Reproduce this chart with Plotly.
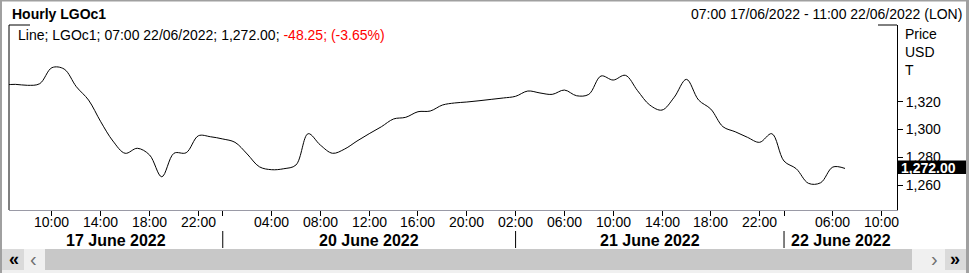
import plotly.graph_objects as go

# ---- data ----
day_names = ["17 June 2022", "20 June 2022", "21 June 2022", "22 June 2022"]
day_hours = [
    list(range(6, 24)),   # 17 June (Fri)
    list(range(0, 24)),   # 20 June (Mon)
    list(range(2, 24)),   # 21 June
    list(range(2, 12)),   # 22 June (axis slots, data ends 07:00)
]
labelled_hours = [
    [10, 14, 18, 22],
    [4, 8, 12, 16, 20],
    [2, 6, 10, 14, 18, 22],
    [6, 10],
]
prices = [
    # 17 June 06:00 - 23:00
    1332.0, 1332.5, 1331.8, 1333.0, 1344.5, 1343.5, 1330.8, 1321.2, 1305.6,
    1291.7, 1282.9, 1286.5, 1281.7, 1266.0, 1282.9, 1283.3, 1295.5, 1294.8,
    # 20 June 00:00 - 23:00
    1293.2, 1290.8, 1282.4, 1273.2, 1271.1, 1271.8, 1274.5, 1297.0, 1288.8,
    1282.9, 1286.0, 1291.7, 1297.0, 1302.0, 1307.6, 1308.8, 1312.8, 1313.3,
    1317.6, 1319.1, 1319.8, 1320.7, 1321.7, 1322.7,
    # 21 June 02:00 - 23:00
    1323.9, 1327.7, 1326.3, 1325.3, 1328.4, 1324.3, 1325.3, 1338.5, 1335.6,
    1339.0, 1327.9, 1317.6, 1314.0, 1323.2, 1336.1, 1321.2, 1314.7, 1302.0,
    1298.4, 1294.4, 1290.8, 1297.0,
    # 22 June 02:00 - 07:00
    1277.3, 1271.8, 1261.3, 1261.7, 1273.0, 1272.0,
]
y_ticks = [1260, 1280, 1300, 1320]
last_price = 1272.00

# ---- slots ----
slots = []
for d, hrs in zip(day_names, day_hours):
    for h in hrs:
        slots.append((d, h))
idx = {s: i for i, s in enumerate(slots)}
xs = list(range(len(prices)))

W, H = 969, 273
L, R, T, B = 9, 897, 25, 210
X_RANGE = [0.48, 73.26]
Y_RANGE = [1242.1, 1375.2]


def px(x):
    return (x - L) / (R - L)


def py(y):
    return (B - y) / (B - T)


FONT = "Arial, Liberation Sans, sans-serif"

fig = go.Figure()
fig.add_trace(go.Scatter(
    x=xs, y=prices, mode="lines",
    line=dict(color="black", width=1, shape="spline", smoothing=1.0),
    hoverinfo="skip",
))

# x ticks (marks from axis, labels as annotations)
tickvals, ticklabels = [], []
for d, hrs in zip(day_names, labelled_hours):
    for h in hrs:
        tickvals.append(idx[(d, h)])
        ticklabels.append(f"{h:02d}:00")
day_starts = [idx[(d, hrs[0])] for d, hrs in zip(day_names, day_hours)]
all_ticks = sorted(set(tickvals + day_starts[1:]))

fig.update_xaxes(
    range=X_RANGE, tickvals=all_ticks, showticklabels=False,
    ticks="outside", ticklen=5, tickcolor="black", tickwidth=1,
    showgrid=False, zeroline=False, showline=True, linecolor="#9a9aa6",
    linewidth=1, fixedrange=True,
)
fig.update_yaxes(
    range=Y_RANGE, side="right", tickvals=y_ticks,
    ticktext=[f"{v:,}" for v in y_ticks],
    ticks="outside", ticklen=5, tickcolor="black", tickwidth=1,
    showgrid=False, zeroline=False, showline=True, linecolor="black",
    linewidth=1, tickfont=dict(family=FONT, size=14, color="black"),
    fixedrange=True,
)

shapes = []
# left border and partial top border
shapes.append(dict(type="line", xref="paper", yref="paper", x0=0, x1=0,
                   y0=0, y1=1, line=dict(color="black", width=1)))
shapes.append(dict(type="line", xref="paper", yref="paper", x0=0, x1=px(30),
                   y0=1, y1=1, line=dict(color="black", width=1)))
shapes.append(dict(type="line", xref="paper", yref="paper", x0=px(878), x1=1,
                   y0=1, y1=1, line=dict(color="black", width=1)))
# day separators
bounds = [X_RANGE[0]] + day_starts[1:] + [X_RANGE[1]]
for ds in day_starts[1:]:
    shapes.append(dict(type="line", xref="x", yref="paper", x0=ds, x1=ds,
                       y0=py(231), y1=py(248), line=dict(color="black", width=1)))


def rect(x0, x1, y0, y1, color):
    return dict(type="rect", xref="paper", yref="paper", x0=px(x0), x1=px(x1),
                y0=py(y1), y1=py(y0), fillcolor=color, line=dict(width=0),
                layer="above")


# scrollbar
shapes.append(rect(0, 969, 249, 273, "#f0f0f0"))
shapes.append(rect(2, 24, 249, 270, "#dadada"))
shapes.append(rect(24, 45, 249, 270, "#f0f0f0"))
shapes.append(rect(45, 912, 249, 270, "#c8c8c8"))
shapes.append(rect(912, 945, 249, 270, "#f0f0f0"))
shapes.append(rect(945, 966, 249, 270, "#dadada"))
# outer frame
shapes.append(rect(0, 2, 0, 273, "#a0a0a0"))
shapes.append(rect(0, 969, 0, 1.5, "#a0a0a0"))
shapes.append(rect(966, 969, 0, 273, "#a0a0a0"))
# current value box
shapes.append(rect(898, 966, 160.5, 174, "black"))

annotations = []


def ann(text, x, y, size=14, color="black", xanchor="left", bold=False,
        xref="paper"):
    if bold:
        text = f"<b>{text}</b>"
    annotations.append(dict(
        text=text, x=x if xref != "paper" else px(x), y=py(y),
        xref=xref, yref="paper", showarrow=False, xanchor=xanchor,
        yanchor="middle", font=dict(family=FONT, size=size, color=color),
    ))


ann("Hourly LGOc1", 10, 14, bold=True)
ann("07:00 17/06/2022 - 11:00 22/06/2022 (LON)", 964, 14, xanchor="right")
ann("Line; LGOc1; 07:00 22/06/2022; 1,272.00; "
    "<span style='color:#ff0000'>-48.25; (-3.65%)</span>", 16, 35)
ann("Price", 903, 34)
ann("USD", 903, 52)
ann("T", 903, 70)
ann(f"{last_price:,.2f}", 899, 167.5, color="white", bold=True)

for tv, tl in zip(tickvals, ticklabels):
    ann(tl, tv, 222, size=14, xanchor="center", xref="x")

for i, d in enumerate(day_names):
    c = (bounds[i] + bounds[i + 1]) / 2
    ann(d, c, 240, size=16, bold=True, xanchor="center", xref="x")

ann("«", 13.5, 259, size=18, bold=True, xanchor="center")
ann("‹", 33.5, 259, size=20, color="#707070", xanchor="center")
ann("›", 934.5, 259, size=20, color="#707070", xanchor="center")
ann("»", 955, 259, size=18, bold=True, xanchor="center")

fig.update_layout(
    width=W, height=H,
    margin=dict(l=L, r=W - R, t=T, b=H - B, pad=0),
    paper_bgcolor="white", plot_bgcolor="white",
    showlegend=False, shapes=shapes, annotations=annotations,
    font=dict(family=FONT, size=14, color="black"),
)

fig.write_html("out.html", config={"displayModeBar": False})
